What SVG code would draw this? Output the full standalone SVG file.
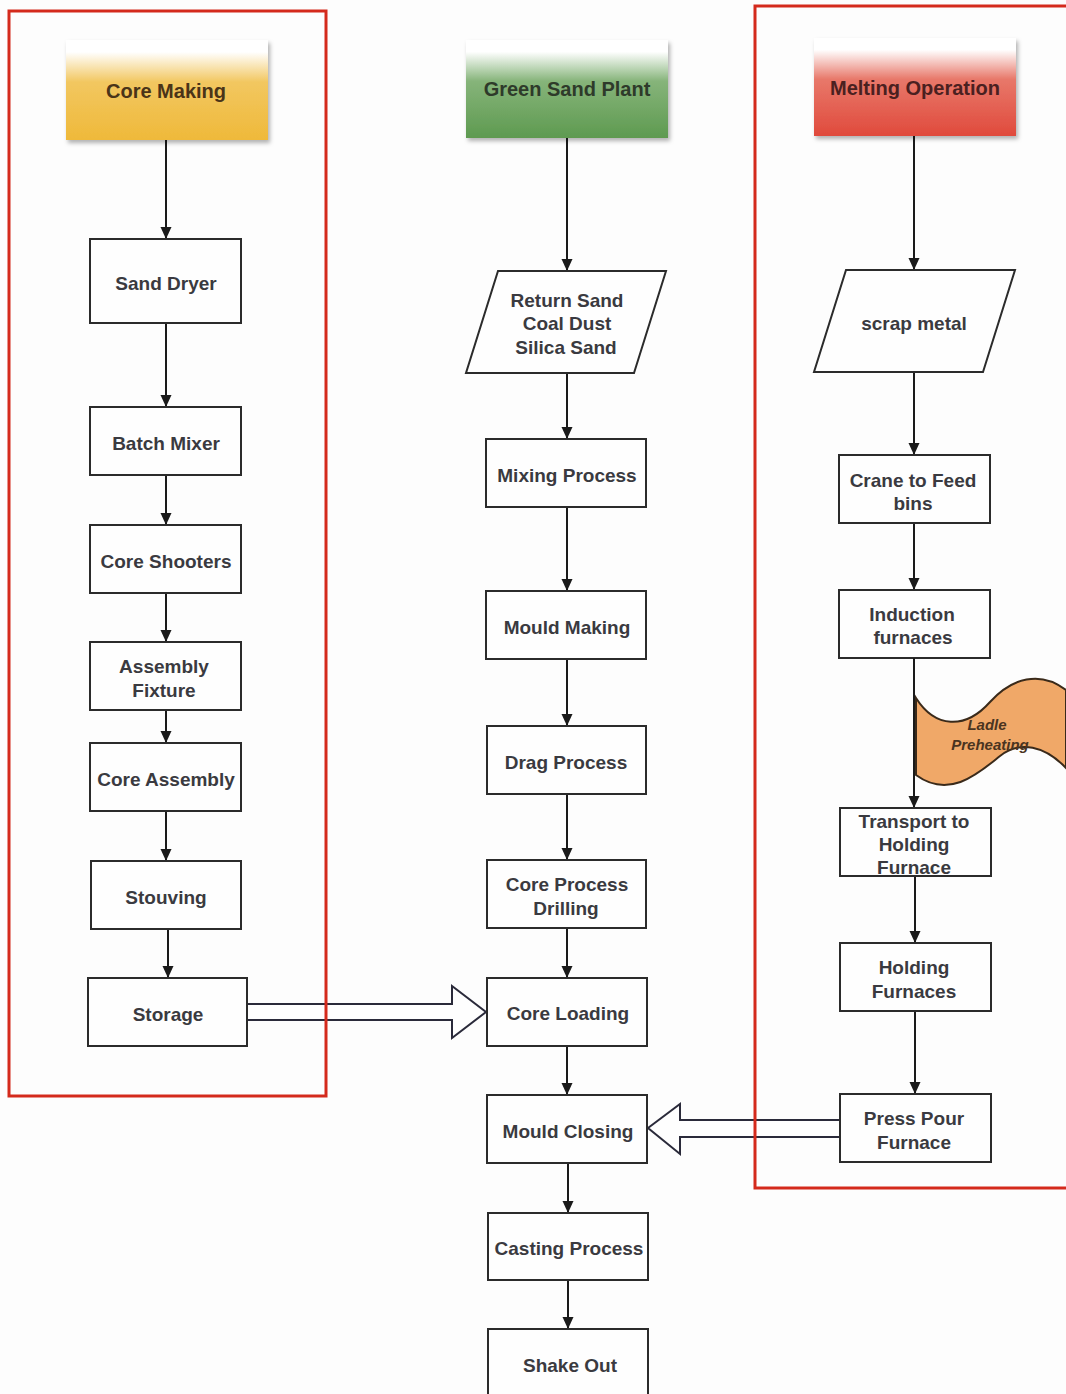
<svg xmlns="http://www.w3.org/2000/svg" width="1066" height="1394" viewBox="0 0 1066 1394">
<style>
.bg{fill:#fdfdfd}
.frame{fill:none;stroke:#d42a1c;stroke-width:3}
.box{fill:#fefefe;stroke:#2b2b2b;stroke-width:2}
.lbl{font-family:"Liberation Sans",Arial,sans-serif;font-size:19px;font-weight:bold;fill:#3a3a40;text-anchor:middle}
.hdr{font-family:"Liberation Sans",Arial,sans-serif;font-size:20px;font-weight:bold;text-anchor:middle}
.conn{stroke:#1a1a1a;stroke-width:2;fill:none}
.blk{fill:#fefefe;stroke:#2a2a3a;stroke-width:2}
</style>
<defs>
<marker id="ah" viewBox="0 0 12 12" refX="12" refY="6" markerWidth="12" markerHeight="12" orient="auto" markerUnits="userSpaceOnUse">
<path d="M0,0.5 L12,6 L0,11.5 Z" fill="#1a1a1a"/>
</marker>
<linearGradient id="gY" x1="0" y1="0" x2="0" y2="1">
<stop offset="0" stop-color="#ffffff"/><stop offset="0.12" stop-color="#ffffff"/><stop offset="0.42" stop-color="#f2c760"/><stop offset="1" stop-color="#efb93a"/>
</linearGradient>
<linearGradient id="gG" x1="0" y1="0" x2="0" y2="1">
<stop offset="0" stop-color="#ffffff"/><stop offset="0.12" stop-color="#ffffff"/><stop offset="0.42" stop-color="#86b47a"/><stop offset="1" stop-color="#5e9a50"/>
</linearGradient>
<linearGradient id="gR" x1="0" y1="0" x2="0" y2="1">
<stop offset="0" stop-color="#ffffff"/><stop offset="0.12" stop-color="#ffffff"/><stop offset="0.42" stop-color="#e8786a"/><stop offset="1" stop-color="#e04a3c"/>
</linearGradient>
<filter id="sh" x="-10%" y="-10%" width="125%" height="130%">
<feDropShadow dx="2" dy="3" stdDeviation="2" flood-color="#000" flood-opacity="0.3"/>
</filter>
</defs>
<rect class="bg" x="0" y="0" width="1066" height="1394"/>

<g id="connectors">
<line class="conn" x1="166" y1="140" x2="166" y2="239" marker-end="url(#ah)"/>
<line class="conn" x1="166" y1="323" x2="166" y2="407" marker-end="url(#ah)"/>
<line class="conn" x1="166" y1="475" x2="166" y2="525" marker-end="url(#ah)"/>
<line class="conn" x1="166" y1="593" x2="166" y2="642" marker-end="url(#ah)"/>
<line class="conn" x1="166" y1="710" x2="166" y2="743" marker-end="url(#ah)"/>
<line class="conn" x1="166" y1="811" x2="166" y2="861" marker-end="url(#ah)"/>
<line class="conn" x1="168" y1="929" x2="168" y2="978" marker-end="url(#ah)"/>

<line class="conn" x1="567" y1="138" x2="567" y2="271" marker-end="url(#ah)"/>
<line class="conn" x1="567" y1="373" x2="567" y2="439" marker-end="url(#ah)"/>
<line class="conn" x1="567" y1="507" x2="567" y2="591" marker-end="url(#ah)"/>
<line class="conn" x1="567" y1="659" x2="567" y2="726" marker-end="url(#ah)"/>
<line class="conn" x1="567" y1="794" x2="567" y2="860" marker-end="url(#ah)"/>
<line class="conn" x1="567" y1="928" x2="567" y2="978" marker-end="url(#ah)"/>
<line class="conn" x1="567" y1="1046" x2="567" y2="1095" marker-end="url(#ah)"/>
<line class="conn" x1="568" y1="1163" x2="568" y2="1213" marker-end="url(#ah)"/>
<line class="conn" x1="568" y1="1280" x2="568" y2="1329" marker-end="url(#ah)"/>

<line class="conn" x1="914" y1="136" x2="914" y2="270" marker-end="url(#ah)"/>
<line class="conn" x1="914" y1="372" x2="914" y2="455" marker-end="url(#ah)"/>
<line class="conn" x1="914" y1="523" x2="914" y2="590" marker-end="url(#ah)"/>
<line class="conn" x1="915" y1="876" x2="915" y2="943" marker-end="url(#ah)"/>
<line class="conn" x1="915" y1="1011" x2="915" y2="1094" marker-end="url(#ah)"/>

<path class="blk" d="M247,1004 L452,1004 L452,986 L486,1012 L452,1038 L452,1020 L247,1020"/>
<path class="blk" d="M840,1120 L680,1120 L680,1104 L648,1128 L680,1154 L680,1137 L840,1137"/>
</g>

<g id="frames">
<rect class="frame" x="9" y="11" width="317" height="1085"/>
<rect class="frame" x="755" y="6" width="320" height="1182"/>
</g>

<g id="core-making">
<rect x="66" y="40" width="202" height="100" fill="url(#gY)" filter="url(#sh)"/>
<text class="hdr" x="166" y="98" fill="#4a3418">Core Making</text>
</g>
<g id="green-sand-plant">
<rect x="466" y="40" width="202" height="98" fill="url(#gG)" filter="url(#sh)"/>
<text class="hdr" x="567" y="96" fill="#2e3a2a">Green Sand Plant</text>
</g>
<g id="melting-operation">
<rect x="814" y="38" width="202" height="98" fill="url(#gR)" filter="url(#sh)"/>
<text class="hdr" x="915" y="95" fill="#4a2020">Melting Operation</text>
</g>

<g id="sand-dryer"><rect class="box" x="90" y="239" width="151" height="84"/><text class="lbl" x="166" y="290">Sand Dryer</text></g>
<g id="batch-mixer"><rect class="box" x="90" y="407" width="151" height="68"/><text class="lbl" x="166" y="450">Batch Mixer</text></g>
<g id="core-shooters"><rect class="box" x="90" y="525" width="151" height="68"/><text class="lbl" x="166" y="568">Core Shooters</text></g>
<g id="assembly-fixture"><rect class="box" x="90" y="642" width="151" height="68"/><text class="lbl" x="164" y="673">Assembly</text><text class="lbl" x="164" y="697">Fixture</text></g>
<g id="core-assembly"><rect class="box" x="90" y="743" width="151" height="68"/><text class="lbl" x="166" y="786">Core Assembly</text></g>
<g id="stouving"><rect class="box" x="91" y="861" width="150" height="68"/><text class="lbl" x="166" y="904">Stouving</text></g>
<g id="storage"><rect class="box" x="88" y="978" width="159" height="68"/><text class="lbl" x="168" y="1021">Storage</text></g>

<g id="raw-materials"><path class="box" d="M498,271 L666,271 L634,373 L466,373 Z"/><text class="lbl" x="567" y="307">Return Sand</text><text class="lbl" x="567" y="330">Coal Dust</text><text class="lbl" x="566" y="354">Silica Sand</text></g>
<g id="mixing-process"><rect class="box" x="486" y="439" width="160" height="68"/><text class="lbl" x="567" y="482">Mixing Process</text></g>
<g id="mould-making"><rect class="box" x="486" y="591" width="160" height="68"/><text class="lbl" x="567" y="634">Mould Making</text></g>
<g id="drag-process"><rect class="box" x="487" y="726" width="159" height="68"/><text class="lbl" x="566" y="769">Drag Process</text></g>
<g id="core-process-drilling"><rect class="box" x="487" y="860" width="159" height="68"/><text class="lbl" x="567" y="891">Core Process</text><text class="lbl" x="566" y="915">Drilling</text></g>
<g id="core-loading"><rect class="box" x="487" y="978" width="160" height="68"/><text class="lbl" x="568" y="1020">Core Loading</text></g>
<g id="mould-closing"><rect class="box" x="487" y="1095" width="160" height="68"/><text class="lbl" x="568" y="1138">Mould Closing</text></g>
<g id="casting-process"><rect class="box" x="488" y="1213" width="160" height="67"/><text class="lbl" x="569" y="1255">Casting Process</text></g>
<g id="shake-out"><rect class="box" x="488" y="1329" width="160" height="70"/><text class="lbl" x="570" y="1372">Shake Out</text></g>

<g id="scrap-metal"><path class="box" d="M846,270 L1015,270 L983,372 L814,372 Z"/><text class="lbl" x="914" y="330">scrap metal</text></g>
<g id="crane-to-feed-bins"><rect class="box" x="839" y="455" width="151" height="68"/><text class="lbl" x="913" y="487">Crane to Feed</text><text class="lbl" x="913" y="510">bins</text></g>
<g id="induction-furnaces"><rect class="box" x="839" y="590" width="151" height="68"/><text class="lbl" x="912" y="621">Induction</text><text class="lbl" x="913" y="644">furnaces</text></g>
<g id="ladle-preheating"><path d="M916,698 C935,728 965,730 990,702 C1012,678 1040,670 1066,690 L1066,768 C1045,746 1020,740 1000,756 C980,772 950,800 916,775 Z" fill="#f0a868" stroke="#3a2a1a" stroke-width="2"/><text x="987" y="730" font-family="Liberation Sans,Arial,sans-serif" font-size="15" font-weight="bold" font-style="italic" fill="#4a3420" text-anchor="middle">Ladle</text><text x="990" y="750" font-family="Liberation Sans,Arial,sans-serif" font-size="15" font-weight="bold" font-style="italic" fill="#4a3420" text-anchor="middle">Preheating</text></g>
<g id="connector-induction-transport"><line class="conn" x1="914" y1="658" x2="914" y2="808" marker-end="url(#ah)"/></g>
<g id="transport-to-holding-furnace"><rect class="box" x="840" y="808" width="151" height="68"/><text class="lbl" x="914" y="828">Transport to</text><text class="lbl" x="914" y="851">Holding</text><text class="lbl" x="914" y="874">Furnace</text></g>
<g id="holding-furnaces"><rect class="box" x="840" y="943" width="151" height="68"/><text class="lbl" x="914" y="974">Holding</text><text class="lbl" x="914" y="998">Furnaces</text></g>
<g id="press-pour-furnace"><rect class="box" x="840" y="1094" width="151" height="68"/><text class="lbl" x="914" y="1125">Press Pour</text><text class="lbl" x="914" y="1149">Furnace</text></g>
</svg>
